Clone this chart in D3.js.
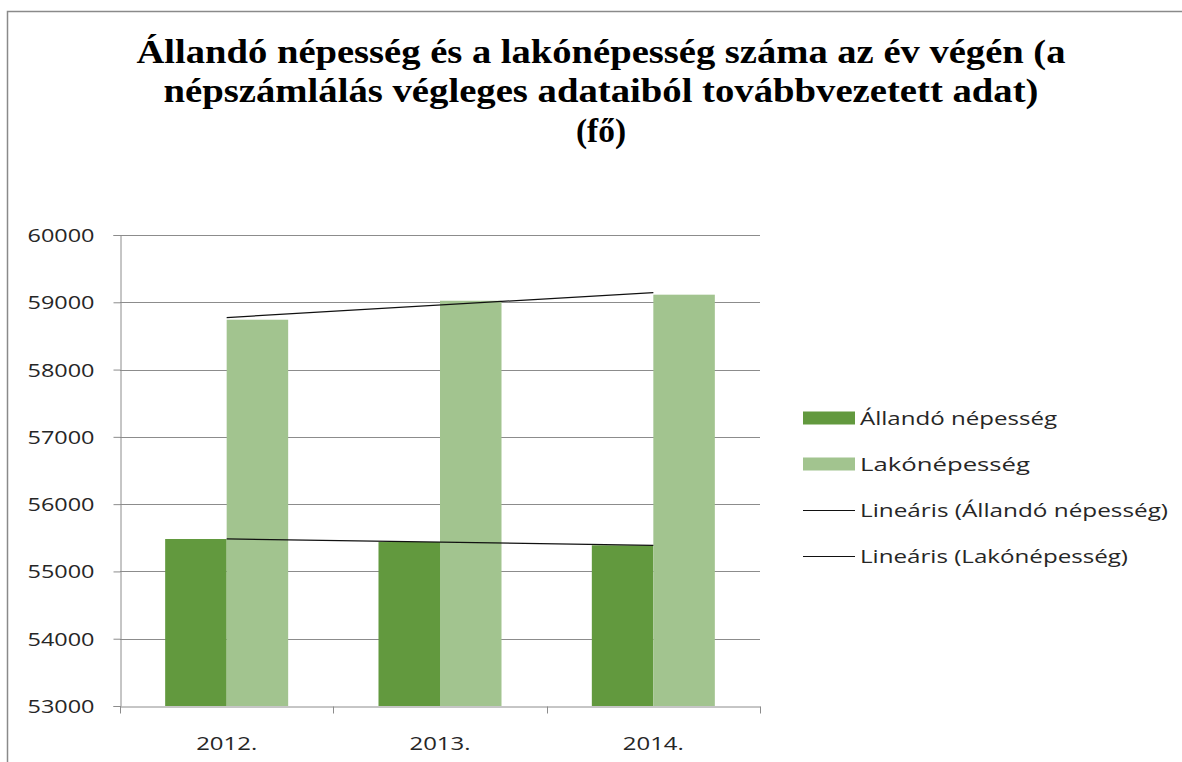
<!DOCTYPE html>
<html>
<head>
<meta charset="utf-8">
<script src="https://cdn.jsdelivr.net/npm/d3@7"></script>
<style>
  html, body { margin: 0; padding: 0; background: #fff; }
  svg { display: block; }
</style>
</head>
<body>
<svg id="chart" width="1182" height="762"></svg>
<script>
// ---- data ----
const categories = ["2012.", "2013.", "2014."];
const allandoValues = [55482, 55437, 55388];
const lakoValues = [58741, 59023, 59113];
const seriesNames = ["Állandó népesség", "Lakónépesség"];
const trendNames = ["Lineáris (Állandó népesség)", "Lineáris (Lakónépesség)"];
const yTicks = [53000, 54000, 55000, 56000, 57000, 58000, 59000, 60000];
const titleLines = [
  "Állandó népesség és a lakónépesség száma az év végén (a",
  "népszámlálás végleges adataiból továbbvezetett adat)",
  "(fő)"
];

// ---- layout ----
const svg = d3.select("#chart");
const W = 1182, H = 762;
const plot = { left: 120, right: 760, top: 235, bottom: 706 };
const colors = ["#62993e", "#a2c48f"];
const sansFont = "'Open Sans', 'Liberation Sans', sans-serif";
const textColor = "#262626";
const gridColor = "#8c8c8c";

// chart frame (left and top border)
svg.append("path")
  .attr("d", `M7.5,${H} V11.5 H${W}`)
  .attr("fill", "none").attr("stroke", "#8a8a8a").attr("stroke-width", 1.5);

// title
const titleY = [63, 102, 142];
const titleLen = [929, 875, 50];
const titleG = svg.append("g");
titleLines.forEach((t, i) => {
  titleG.append("text")
    .attr("x", 601).attr("y", titleY[i])
    .attr("text-anchor", "middle")
    .attr("font-family", "'Liberation Serif', 'Times New Roman', serif")
    .attr("font-weight", "bold")
    .attr("font-size", 34)
    .attr("fill", "#000")
    .attr("textLength", titleLen[i])
    .attr("lengthAdjust", "spacingAndGlyphs")
    .text(t);
});

// scales
const y = d3.scaleLinear().domain([53000, 60000]).range([plot.bottom, plot.top]);
const x = d3.scaleBand().domain(categories).range([plot.left, plot.right]).padding(0);
const bw = x.bandwidth();
const xs = d3.scaleBand().domain([0, 1]).range([bw * 0.2117, bw * 0.7883]).padding(0);

// gridlines
svg.append("g")
  .selectAll("line").data(yTicks.filter(v => v > 53000)).join("line")
  .attr("x1", plot.left).attr("x2", plot.right)
  .attr("y1", d => Math.round(y(d)) + 0.5).attr("y2", d => Math.round(y(d)) + 0.5)
  .attr("stroke", gridColor).attr("stroke-width", 1);

// bars
const seriesData = [allandoValues, lakoValues];
seriesData.forEach((vals, si) => {
  svg.append("g").selectAll("rect").data(vals).join("rect")
    .attr("x", (d, i) => x(categories[i]) + xs(si))
    .attr("width", xs.bandwidth())
    .attr("y", d => y(d))
    .attr("height", d => y(53000) - y(d))
    .attr("fill", colors[si]);
});

// y axis
const yAxis = d3.axisLeft(y).tickValues(yTicks).tickSize(7).tickFormat(d3.format("d"));
const yg = svg.append("g").attr("transform", `translate(${plot.left + 0.5},0)`).call(yAxis);
yg.select(".domain").attr("stroke", gridColor);
yg.selectAll(".tick line").attr("stroke", gridColor);
yg.selectAll(".tick text")
  .attr("x", -26)
  .attr("dy", "0.35em")
  .attr("font-family", sansFont)
  .attr("font-size", 18.5)
  .attr("fill", textColor)
  .attr("textLength", 67)
  .attr("lengthAdjust", "spacingAndGlyphs");

// x axis
const xAxis = d3.axisBottom(x).tickSize(0).tickPadding(0);
const xg = svg.append("g").attr("transform", `translate(0,${plot.bottom + 0.5})`).call(xAxis);
xg.select(".domain").attr("stroke", gridColor);
xg.selectAll(".tick text")
  .attr("y", 43).attr("dy", 0)
  .attr("font-family", sansFont)
  .attr("font-size", 18.5)
  .attr("fill", textColor)
  .attr("textLength", 61)
  .attr("lengthAdjust", "spacingAndGlyphs");
// category separator ticks
const sepX = categories.map(c => x(c)).concat([plot.right]);
xg.append("g").selectAll("line").data(sepX).join("line")
  .attr("x1", d => Math.round(d) + 0.5).attr("x2", d => Math.round(d) + 0.5)
  .attr("y1", 0).attr("y2", 7)
  .attr("stroke", gridColor);

// linear trendlines (least squares on category index)
function linreg(vals) {
  const xsI = vals.map((_, i) => i + 1);
  const mx = d3.mean(xsI), my = d3.mean(vals);
  let num = 0, den = 0;
  vals.forEach((v, i) => { num += (xsI[i] - mx) * (v - my); den += (xsI[i] - mx) ** 2; });
  const b = num / den, a = my - b * mx;
  return xsI.map(k => a + b * k);
}
seriesData.forEach((vals) => {
  const fit = linreg(vals);
  const first = 0, last = fit.length - 1;
  svg.append("line")
    .attr("x1", x(categories[first]) + bw / 2)
    .attr("x2", x(categories[last]) + bw / 2)
    .attr("y1", y(fit[first]))
    .attr("y2", y(fit[last]))
    .attr("stroke", "#111").attr("stroke-width", 1.2);
});

// legend
const legendRows = [418, 464, 510, 556];
const legendLen = [197, 170, 308, 268];
const legendLabels = seriesNames.concat(trendNames);
const lg = svg.append("g");
legendLabels.forEach((lab, i) => {
  const cy = legendRows[i];
  if (i < 2) {
    lg.append("rect").attr("x", 803).attr("y", cy - 6.5).attr("width", 52).attr("height", 13)
      .attr("fill", colors[i]);
  } else {
    lg.append("line").attr("x1", 803).attr("x2", 855).attr("y1", cy + 0.5).attr("y2", cy + 0.5)
      .attr("stroke", "#111").attr("stroke-width", 1.2);
  }
  lg.append("text")
    .attr("x", 860).attr("y", cy + 6.5)
    .attr("font-family", sansFont)
    .attr("font-size", 18.5)
    .attr("fill", textColor)
    .attr("textLength", legendLen[i])
    .attr("lengthAdjust", "spacingAndGlyphs")
    .text(lab);
});
</script>
</body>
</html>
